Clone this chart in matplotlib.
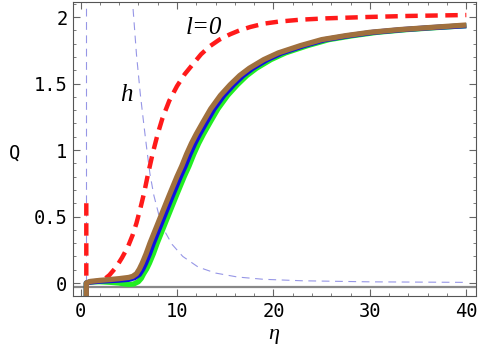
import numpy as np
import matplotlib
matplotlib.use('Agg')
import matplotlib.pyplot as plt
from matplotlib.ticker import MultipleLocator

# curva l=0 (vermelha tracejada)
red_x = [0.6, 0.6, 1.5, 2.5, 3.0, 3.7, 4.3, 4.9, 5.4, 5.8, 6.2, 6.6, 7.0, 7.5, 8.0, 8.5, 9.2, 10.0, 10.8,
         11.7, 12.5, 13.4, 14.4, 15.5, 16.5, 17.6, 19.0, 20.5, 22.8, 25.5, 29.7, 34.0, 40.0]
red_y = [0.6, 0.0, 0.01, 0.03, 0.06, 0.12, 0.19, 0.27, 0.36, 0.45, 0.56, 0.68, 0.82, 0.98, 1.12, 1.24, 1.37, 1.48, 1.57,
         1.65, 1.72, 1.78, 1.83, 1.87, 1.90, 1.925, 1.95, 1.965, 1.98, 1.99, 2.0, 2.008, 2.015]

# curvas cheias (verde, azul, marrom)
green_x = [0.6, 0.6, 1, 2, 3, 4, 4.5, 5, 5.5, 6, 6.3, 6.55, 6.85, 7.15, 7.55, 7.95, 8.45, 8.95, 9.45, 9.95, 10.35,
           10.75, 11.25, 11.75, 12.25, 12.75, 13.45, 14.25, 15.25, 16.25, 17.25, 18.25, 19.75, 21.25, 23.55, 25.75,
           28.25, 30.75, 33.75, 36.75, 40]
green_y = [-0.15, 0, 0.008, 0.01, 0.006, 0.0, -0.006, -0.01, -0.008, 0.01, 0.035, 0.07, 0.105, 0.15, 0.22, 0.30,
           0.39, 0.48, 0.57, 0.66, 0.73, 0.80, 0.88, 0.97, 1.05, 1.12, 1.21, 1.31, 1.41, 1.49, 1.56, 1.615, 1.68, 1.73,
           1.785, 1.83, 1.86, 1.885, 1.905, 1.92, 1.935]
blue_x = [0.6, 0.6, 1, 2, 3, 4, 5, 5.6, 6.1, 6.45, 6.75, 7.15, 7.55, 8.05, 8.55, 9.05, 9.55, 9.95, 10.35, 10.85,
          11.35, 11.85, 12.35, 13.05, 13.85, 14.85, 15.85, 16.85, 17.85, 19.35, 20.85, 23.15, 25.35, 27.85, 30.35,
          33.35, 36.35, 40]
blue_y = [-0.15, 0, 0.008, 0.014, 0.018, 0.022, 0.028, 0.04, 0.065, 0.105, 0.15, 0.22, 0.30, 0.39, 0.48, 0.57, 0.66,
          0.73, 0.80, 0.88, 0.97, 1.05, 1.12, 1.21, 1.31, 1.41, 1.49, 1.56, 1.615, 1.68, 1.73, 1.785, 1.83, 1.86,
          1.885, 1.905, 1.92, 1.935]
brown_x = [0.6, 0.6, 1, 2, 3, 4, 5, 5.4, 5.8, 6.1, 6.4, 6.8, 7.2, 7.7, 8.2, 8.7, 9.2, 9.6, 10, 10.5, 11, 11.5, 12,
           12.7, 13.5, 14.5, 15.5, 16.5, 17.5, 19, 20.5, 22.8, 25, 27.5, 30, 33, 36, 40]
brown_y = [-0.15, 0, 0.012, 0.02, 0.026, 0.033, 0.042, 0.05, 0.07, 0.105, 0.15, 0.22, 0.30, 0.39, 0.48, 0.57, 0.66,
           0.73, 0.80, 0.88, 0.97, 1.05, 1.12, 1.21, 1.31, 1.41, 1.49, 1.56, 1.615, 1.68, 1.73, 1.785, 1.83, 1.86,
           1.885, 1.905, 1.92, 1.94]

# curva h (azul fina tracejada)
h_x = [5.45, 5.8, 6.2, 6.6, 6.9, 7.2, 7.6, 8.2, 8.8, 9.5, 10.6, 12.2, 14.0, 16.3, 19.0, 23.0, 30.0, 40.0]
h_y = [2.06, 1.72, 1.42, 1.17, 0.99, 0.82, 0.66, 0.49, 0.38, 0.29, 0.20, 0.12, 0.075, 0.045, 0.028, 0.017, 0.009, 0.005]
h_line_x = 0.6
base_y = -0.03

xticks = [0, 10, 20, 30, 40]
yticks = [0, 0.5, 1, 1.5, 2]
ytick_labels = ['0', '0.5', '1', '1.5', '2']

fig = plt.figure(figsize=(4.85, 3.55), dpi=100)
ax = fig.add_axes([0.1505, 0.166, 0.8309, 0.8284])

hcol = '#7c7ce0'
ax.axvline(h_line_x, color=hcol, lw=0.8, dashes=(7, 5), alpha=0.8)
ax.plot(h_x, h_y, color=hcol, lw=0.8, dashes=(7, 5), alpha=0.8)
ax.axhline(base_y, color='#888888', lw=1.6)

ax.plot(red_x, red_y, color='#ff1a1a', lw=3.2, dashes=(2.8, 1.7))
for xs, ys, c in [(green_x, green_y, '#22ee22'), (blue_x, blue_y, '#1010e0'), (brown_x, brown_y, '#a0703e')]:
    ax.plot(xs, ys, color=c, lw=3.8, solid_capstyle='butt', solid_joinstyle='round')

ax.set_xlim(-0.78, 41.0)
ax.set_ylim(-0.098, 2.113)
ax.set_xticks(xticks)
ax.set_yticks(yticks)
ax.set_yticklabels(ytick_labels)
ax.xaxis.set_minor_locator(MultipleLocator(2))
ax.yaxis.set_minor_locator(MultipleLocator(0.1))
ax.tick_params(which='both', direction='in', top=True, right=True, color='#666666')
ax.tick_params(which='major', length=5, pad=4)
ax.tick_params(which='minor', length=2.5)
for lab in ax.get_xticklabels() + ax.get_yticklabels():
    lab.set_fontfamily('DejaVu Sans Mono')
    lab.set_fontsize(13.5)
for s in ax.spines.values():
    s.set_color('#555555')
    s.set_linewidth(0.8)

ax.text(4.7, 1.41, 'h', fontfamily='Liberation Serif', style='italic', fontsize=18, ha='center', va='center')
ax.text(12.8, 1.92, 'l=0', fontfamily='Liberation Serif', style='italic', fontsize=18, ha='center', va='center')
fig.text(15 / 485, 1 - 153 / 355, 'Q', fontfamily='DejaVu Sans Mono', fontsize=13.5, ha='center', va='center')
fig.text(274 / 485, 1 - 335 / 355, 'η', fontfamily='Liberation Serif', style='italic', fontsize=16, ha='center', va='center')

fig.savefig('out.png', dpi=100)
